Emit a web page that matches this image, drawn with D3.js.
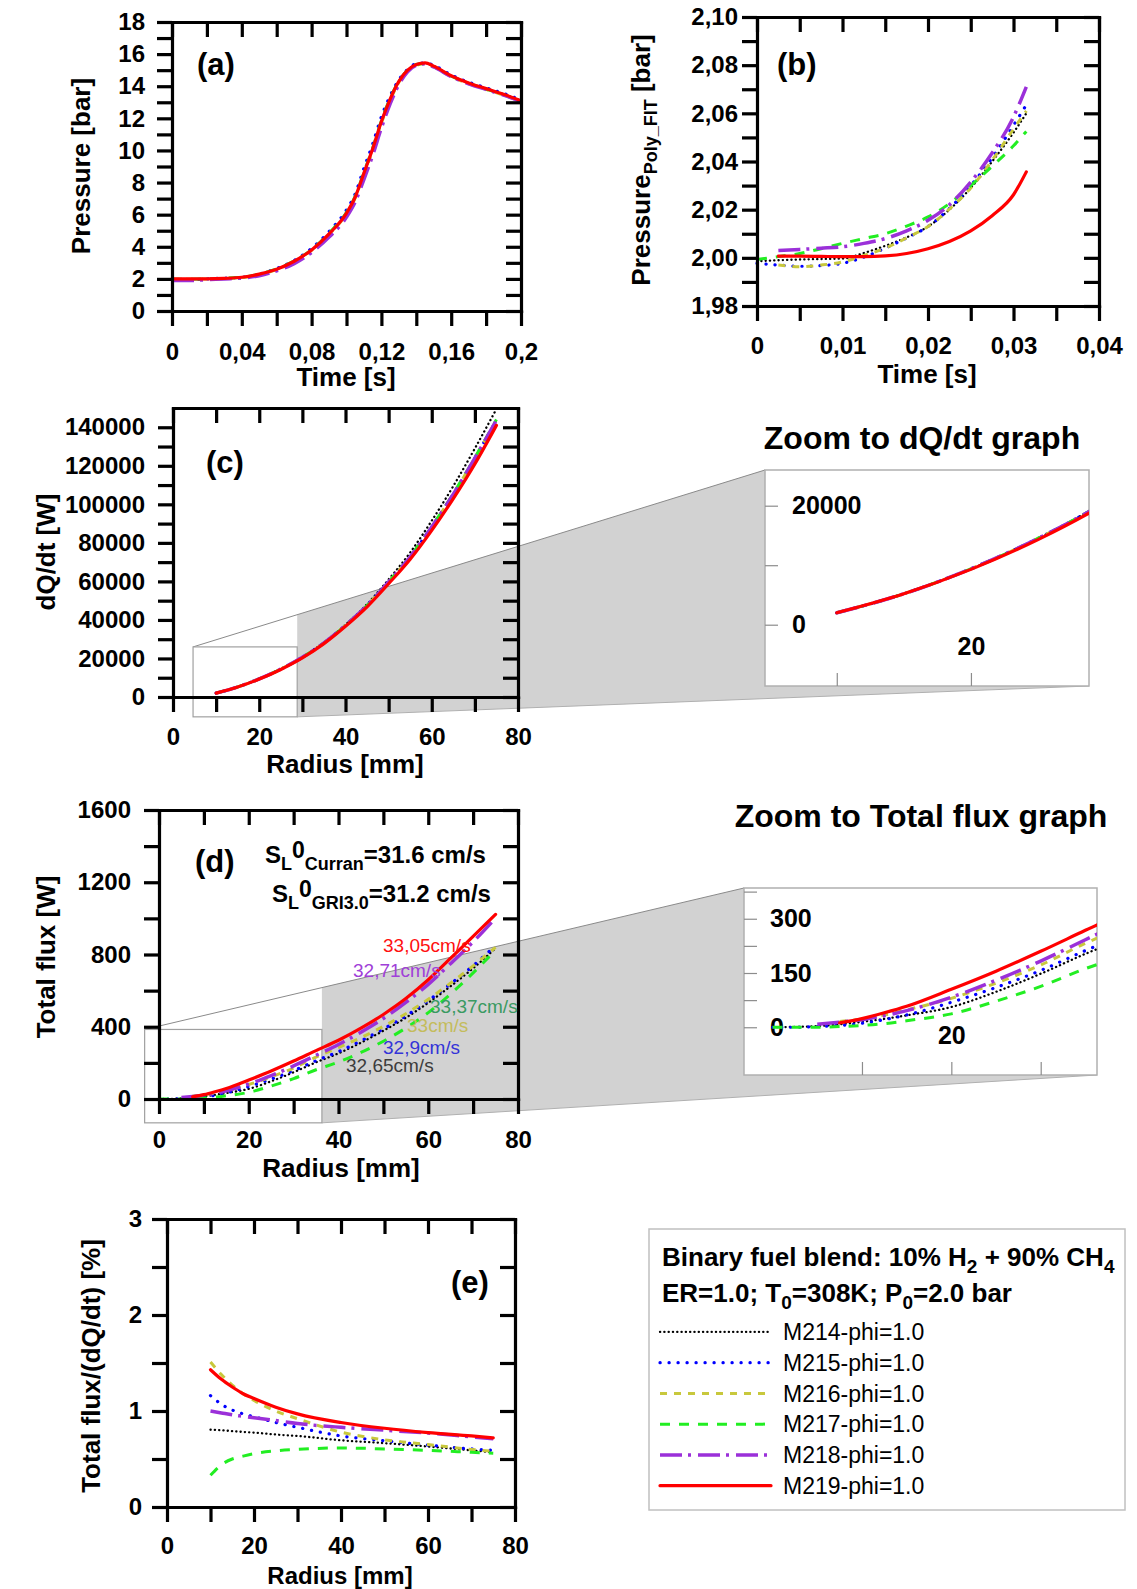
<!DOCTYPE html>
<html>
<head>
<meta charset="utf-8">
<script src="https://cdn.jsdelivr.net/npm/d3@7/dist/d3.min.js"></script>
<style>
  body { margin: 0; background: #fff; }
  text { font-family: "Liberation Sans", Arial, Helvetica, sans-serif; }
</style>
</head>
<body>
<svg id="fig" width="1137" height="1589"></svg>
<script>
"use strict";

// ---- series, same order in every panel ----
const seriesNames = ["M214-phi=1.0", "M215-phi=1.0", "M216-phi=1.0", "M217-phi=1.0", "M218-phi=1.0", "M219-phi=1.0"];

// (a) pressure vs time
const aTime = [0, 0.01, 0.02, 0.03, 0.04, 0.05, 0.06, 0.07, 0.08, 0.09, 0.1, 0.105, 0.11, 0.115, 0.12, 0.125, 0.13, 0.135, 0.14, 0.145, 0.15, 0.16, 0.17, 0.18, 0.19, 0.2];
const aM214 = [1.98, 1.98, 2.0, 2.03, 2.1, 2.28, 2.6, 3.1, 3.8, 4.8, 6.1, 7.1, 8.6, 10.1, 11.8, 13.2, 14.3, 15.0, 15.35, 15.45, 15.25, 14.65, 14.2, 13.85, 13.5, 13.1];
const aM215 = [1.95, 1.95, 2.0, 2.05, 2.1, 2.3, 2.65, 3.15, 3.9, 4.95, 6.3, 7.3, 8.9, 10.4, 12.1, 13.4, 14.4, 15.05, 15.4, 15.45, 15.3, 14.7, 14.25, 13.9, 13.55, 13.15];
const aM216 = [1.97, 1.97, 2.0, 2.03, 2.08, 2.27, 2.58, 3.08, 3.78, 4.78, 6.05, 7.05, 8.55, 10.0, 11.7, 13.1, 14.25, 14.95, 15.3, 15.4, 15.2, 14.6, 14.15, 13.8, 13.45, 13.05];
const aM217 = [1.98, 1.98, 2.0, 2.04, 2.1, 2.3, 2.62, 3.12, 3.82, 4.85, 6.15, 7.15, 8.65, 10.15, 11.85, 13.25, 14.3, 15.0, 15.35, 15.42, 15.22, 14.62, 14.18, 13.82, 13.47, 13.08];
const aM218 = [1.9, 1.9, 1.95, 2.0, 2.05, 2.2, 2.5, 2.95, 3.65, 4.6, 5.85, 6.8, 8.2, 9.7, 11.4, 12.9, 14.1, 14.9, 15.3, 15.4, 15.2, 14.6, 14.15, 13.8, 13.45, 13.05];
const aM219 = [2.0, 2.0, 2.0, 2.03, 2.1, 2.3, 2.6, 3.1, 3.8, 4.8, 6.1, 7.1, 8.6, 10.1, 11.8, 13.2, 14.3, 15.0, 15.35, 15.45, 15.25, 14.65, 14.2, 13.85, 13.5, 13.1];

// (b) polynomial fit of pressure, early stage
const bTime = [0, 0.0025, 0.005, 0.0075, 0.01, 0.0125, 0.015, 0.0175, 0.02, 0.0225, 0.025, 0.0275, 0.03, 0.0315];
const bM214 = [1.9986, 1.999, 1.9993, 1.9995, 1.9997, 2.002, 2.005, 2.0085, 2.013, 2.02, 2.029, 2.04, 2.052, 2.06];
const bM215 = [1.9977, 1.997, 1.9965, 1.9968, 1.9977, 2.0003, 2.004, 2.0083, 2.013, 2.0205, 2.03, 2.0415, 2.055, 2.0635];
const bM216 = [null, 1.997, 1.9963, 1.997, 1.9983, 2.001, 2.004, 2.0083, 2.013, 2.0202, 2.029, 2.0405, 2.0535, 2.061];
const bM217 = [1.9993, 2.0005, 2.0018, 2.0038, 2.006, 2.008, 2.01, 2.0132, 2.017, 2.0225, 2.03, 2.038, 2.0465, 2.0525];
const bM218 = [null, 2.003, 2.0035, 2.004, 2.0046, 2.006, 2.008, 2.0112, 2.0156, 2.022, 2.0315, 2.0435, 2.0585, 2.071];
const bM219 = [null, 2.0007, 2.0007, 2.0006, 2.0005, 2.0005, 2.0008, 2.0018, 2.0038, 2.0068, 2.0112, 2.0175, 2.0262, 2.0357];

// (c) dQ/dt vs radius
const cRadius = [10, 15, 20, 25, 30, 35, 40, 45, 50, 55, 60, 65, 70, 75];
const cM214 = [2000, 5200, 9400, 14500, 20700, 28300, 37500, 48200, 61000, 75000, 91500, 109500, 129000, 149500];
const cM215 = [2000, 5200, 9400, 14500, 20600, 28100, 37200, 47500, 59800, 72800, 88300, 105300, 124000, 143700];
const cM216 = [2000, 5200, 9400, 14500, 20600, 28100, 37200, 47500, 59800, 72800, 88300, 105300, 124000, 143700];
const cM217 = [2000, 5200, 9400, 14500, 20600, 28100, 37200, 47500, 59800, 72900, 88500, 105600, 124300, 144000];
const cM218 = [2000, 5200, 9400, 14500, 20600, 28100, 37200, 47500, 59800, 72800, 88300, 105300, 124000, 143700];
const cM219 = [2000, 5200, 9300, 14300, 20300, 27700, 36700, 46800, 58800, 71500, 86500, 103000, 121000, 141000];
const cZoomX = [4.65, 28.8];
const cZoomY = [-10300, 26000];

// (d) total flux vs radius
const dRadius = [0, 2.5, 5, 7.5, 10, 12.5, 15, 20, 25, 30, 35, 40, 45, 50, 55, 60, 65, 70, 75];
const dM214 = [0, 1, 3, 8, 15, 23, 33, 56, 98, 148, 203, 253, 312, 378, 450, 533, 625, 724, 835];
const dM215 = [0, 0, 2, 5, 11, 21, 34, 69, 110, 157, 212, 262, 322, 388, 460, 545, 638, 738, 850];
const dM216 = [null, null, null, 16, 23, 34, 48, 80, 122, 172, 232, 285, 340, 402, 472, 552, 642, 737, 840];
const dM217 = [0, 0, 0, 2, 5, 10, 18, 37, 72, 113, 162, 205, 258, 320, 393, 478, 582, 698, 825];
const dM218 = [null, null, 8, 14, 21, 32, 46, 83, 130, 183, 242, 302, 370, 446, 535, 635, 750, 870, 1002];
const dM219 = [null, null, null, 12, 24, 40, 58, 105, 155, 210, 268, 325, 392, 468, 556, 660, 780, 900, 1022];
const dZoomX = [-3.2, 36.3];
const dZoomY = [-132, 385];
const dSpeeds = ["32,65cm/s", "32,9cm/s", "33cm/s", "33,37cm/s", "32,71cm/s", "33,05cm/s"];

// (e) total flux / (dQ/dt) vs radius
const eRadius = [10, 12.5, 15, 17.5, 20, 25, 30, 40, 50, 60, 70, 75];
const eM214 = [0.805, 0.8, 0.79, 0.782, 0.775, 0.755, 0.74, 0.695, 0.665, 0.63, 0.59, 0.57];
const eM215 = [1.16, 1.07, 1.01, 0.97, 0.94, 0.88, 0.83, 0.74, 0.69, 0.645, 0.605, 0.59];
const eM216 = [1.51, 1.38, 1.27, 1.18, 1.11, 1.0, 0.92, 0.78, 0.7, 0.65, 0.6, 0.58];
const eM217 = [0.33, 0.44, 0.5, 0.53, 0.555, 0.585, 0.6, 0.615, 0.605, 0.59, 0.57, 0.56];
const eM218 = [1.0, 0.98, 0.96, 0.945, 0.93, 0.9, 0.87, 0.83, 0.8, 0.77, 0.73, 0.71];
const eM219 = [1.43, 1.33, 1.25, 1.18, 1.13, 1.04, 0.97, 0.88, 0.82, 0.775, 0.74, 0.72];

// line styles of the six series
const seriesStyle = [
  { color: "#000000", width: 2.3, dash: "0.2,4.1", cap: "round" },
  { color: "#0000ff", width: 3.2, dash: "0.2,8.8", cap: "round" },
  { color: "#c8c83c", width: 3, dash: "7,7", cap: "butt" },
  { color: "#22ee22", width: 3, dash: "10,9", cap: "butt" },
  { color: "#9b30d9", width: 3.5, dash: "22,6,3,7", cap: "butt" },
  { color: "#ff0000", width: 3.2, dash: null, cap: "round" }
];
const speedColors = ["#3c3c3c", "#3434d8", "#c4bc5c", "#3a9a62", "#a040d8", "#ff1010"];

const svg = d3.select("#fig");

function fmt(major, labels) {
  return d => {
    const i = major.findIndex(m => Math.abs(m - d) < 1e-7 * (1 + Math.abs(m)));
    return i < 0 ? "" : labels[i];
  };
}

function drawSeries(g, x, y, xs, list) {
  const line = d3.line()
    .defined(d => d[1] != null)
    .x(d => x(d[0]))
    .y(d => y(d[1]))
    .curve(d3.curveMonotoneX);
  list.forEach((vals, i) => {
    const st = seriesStyle[i];
    g.append("path")
      .datum(xs.map((t, j) => [t, vals[j]]))
      .attr("d", line)
      .attr("fill", "none")
      .attr("stroke", st.color)
      .attr("stroke-width", st.width)
      .attr("stroke-linecap", st.cap)
      .attr("stroke-dasharray", st.dash);
  });
}

// Origin-like frame: left/bottom ticks out, right/top ticks in
function frame(g, x, y, o) {
  const [xl, xr] = x.range(), [yb, yt] = y.range();
  const TL = 15;
  const left = g.append("g").attr("transform", `translate(${xl},0)`)
    .call(d3.axisLeft(y).tickValues(o.yTicks).tickFormat(fmt(o.yMajor, o.yLabels))
      .tickSize(TL).tickSizeOuter(0).tickPadding(o.yPad));
  const right = g.append("g").attr("transform", `translate(${xr},0)`)
    .call(d3.axisRight(y).tickValues(o.yTicks).tickFormat("").tickSize(-TL).tickSizeOuter(0));
  const top = g.append("g").attr("transform", `translate(0,${yt})`)
    .call(d3.axisTop(x).tickValues(o.xTicks).tickFormat("").tickSize(-TL).tickSizeOuter(0));
  const bottom = g.append("g").attr("transform", `translate(0,${yb})`)
    .call(d3.axisBottom(x).tickValues(o.xTicks).tickFormat(fmt(o.xMajor, o.xLabels))
      .tickSize(TL).tickSizeOuter(0).tickPadding(o.xPad));
  [left, right, top, bottom].forEach(a => {
    a.select(".domain").attr("stroke", "#000").attr("stroke-width", 3.2).attr("stroke-linecap", "square");
    a.selectAll(".tick line").attr("stroke", "#000").attr("stroke-width", 3.2);
    a.selectAll(".tick text").attr("fill", "#000").style("font-size", "24px").style("font-weight", "bold");
  });
}

function title(g, txt, cx, cy, rot, size) {
  return g.append("text")
    .attr("transform", `translate(${cx},${cy})` + (rot ? " rotate(-90)" : ""))
    .attr("text-anchor", "middle")
    .attr("dy", rot ? "0.35em" : 0)
    .style("font-size", (size || 26) + "px").style("font-weight", "bold")
    .text(txt);
}

function tag(g, txt, x, y) {
  g.append("text").attr("x", x).attr("y", y)
    .style("font-size", "31px").style("font-weight", "bold").text(txt);
}

// zoom window: marked rectangle in the panel, grey beam, inset box
function zoomBeam(g, xP, yP, zx, zy, box) {
  const rx0 = xP(zx[0]), rx1 = xP(zx[1]), ry0 = yP(zy[1]), ry1 = yP(zy[0]);
  const yAt = ry0 + (box.y0 - ry0) * (rx1 - rx0) / (box.x0 - rx0);
  g.append("path")
    .attr("d", `M${rx1},${yAt}L${box.x0},${box.y0}L${box.x1},${box.y1}L${rx1},${ry1}Z`)
    .attr("fill", "#d2d2d2");
  g.append("line").attr("x1", rx0).attr("y1", ry0).attr("x2", box.x0).attr("y2", box.y0)
    .attr("stroke", "#8a8a8a").attr("stroke-width", 1);
  g.append("line").attr("x1", rx1).attr("y1", ry1).attr("x2", box.x1).attr("y2", box.y1)
    .attr("stroke", "#b0b0b0").attr("stroke-width", 1);
  g.append("rect").attr("x", rx0).attr("y", ry0).attr("width", rx1 - rx0).attr("height", ry1 - ry0)
    .attr("fill", "#fff").attr("stroke", "#a0a0a0").attr("stroke-width", 1.2);
  g.append("rect").attr("x", box.x0).attr("y", box.y0).attr("width", box.x1 - box.x0).attr("height", box.y1 - box.y0)
    .attr("fill", "#fff").attr("stroke", "#b0b0b0").attr("stroke-width", 1.5);
}

function insetAxes(g, x, y, o, box) {
  const ly = g.append("g").attr("transform", `translate(${box.x0},0)`)
    .call(d3.axisRight(y).tickValues(o.yTicks).tickFormat(fmt(o.yMajor, o.yLabels)).tickSize(13).tickPadding(o.yPad));
  const lx = g.append("g").attr("transform", `translate(0,${box.y1})`)
    .call(d3.axisTop(x).tickValues(o.xTicks).tickFormat(fmt(o.xMajor, o.xLabels)).tickSize(13).tickPadding(o.xPad));
  [ly, lx].forEach(a => {
    a.select(".domain").remove();
    a.selectAll(".tick line").attr("stroke", "#8c8c8c").attr("stroke-width", 1.2);
    a.selectAll(".tick text").attr("fill", "#000").style("font-size", "25px").style("font-weight", "bold");
  });
}

// ================= (a) =================
const gA = svg.append("g");
const xA = d3.scaleLinear().domain([0, 0.2]).range([172, 521]);
const yA = d3.scaleLinear().domain([0, 18]).range([311, 22]);
drawSeries(gA, xA, yA, aTime, [aM214, aM215, aM216, aM217, aM218, aM219]);
frame(gA, xA, yA, {
  xTicks: d3.range(0, 0.2001, 0.02), xMajor: [0, 0.04, 0.08, 0.12, 0.16, 0.2],
  xLabels: ["0", "0,04", "0,08", "0,12", "0,16", "0,2"], xPad: 17,
  yTicks: d3.range(0, 18.5, 1), yMajor: [0, 2, 4, 6, 8, 10, 12, 14, 16, 18],
  yLabels: ["0", "2", "4", "6", "8", "10", "12", "14", "16", "18"], yPad: 12
});
title(gA, "Pressure [bar]", 81, 166, true);
title(gA, "Time [s]", 346, 386, false);
tag(gA, "(a)", 197, 75);

// ================= (b) =================
const gB = svg.append("g");
const xB = d3.scaleLinear().domain([0, 0.04]).range([757, 1099]);
const yB = d3.scaleLinear().domain([1.98, 2.10]).range([306, 17]);
drawSeries(gB, xB, yB, bTime, [bM214, bM215, bM216, bM217, bM218, bM219]);
frame(gB, xB, yB, {
  xTicks: d3.range(0, 0.04001, 0.005), xMajor: [0, 0.01, 0.02, 0.03, 0.04],
  xLabels: ["0", "0,01", "0,02", "0,03", "0,04"], xPad: 16,
  yTicks: d3.range(1.98, 2.1001, 0.01), yMajor: [1.98, 2.0, 2.02, 2.04, 2.06, 2.08, 2.1],
  yLabels: ["1,98", "2,00", "2,02", "2,04", "2,06", "2,08", "2,10"], yPad: 4
});
const tb = gB.append("text")
  .attr("transform", "translate(641,160) rotate(-90)")
  .attr("text-anchor", "middle").attr("dy", "0.35em")
  .style("font-size", "26px").style("font-weight", "bold");
tb.append("tspan").text("Pressure");
tb.append("tspan").attr("dy", 7).style("font-size", "18px").text("Poly_FIT");
tb.append("tspan").attr("dy", -7).text(" [bar]");
title(gB, "Time [s]", 927, 383, false);
tag(gB, "(b)", 777, 75);

// ================= (c) =================
const gC = svg.append("g");
const xC = d3.scaleLinear().domain([0, 80]).range([173, 518]);
const yC = d3.scaleLinear().domain([0, 150000]).range([697, 408]);
const boxC = { x0: 765, x1: 1089, y0: 470, y1: 686 };
zoomBeam(gC, xC, yC, cZoomX, cZoomY, boxC);
const cSeries = [cM214, cM215, cM216, cM217, cM218, cM219];
drawSeries(gC, xC, yC, cRadius, cSeries);
frame(gC, xC, yC, {
  xTicks: d3.range(0, 81, 10), xMajor: [0, 20, 40, 60, 80],
  xLabels: ["0", "20", "40", "60", "80"], xPad: 16,
  yTicks: d3.range(0, 140001, 10000), yMajor: [0, 20000, 40000, 60000, 80000, 100000, 120000, 140000],
  yLabels: ["0", "20000", "40000", "60000", "80000", "100000", "120000", "140000"], yPad: 13
});
title(gC, "dQ/dt [W]", 46, 552, true);
title(gC, "Radius [mm]", 345, 773, false);
tag(gC, "(c)", 206, 473);

svg.append("defs").append("clipPath").attr("id", "clipC")
  .append("rect").attr("x", boxC.x0).attr("y", boxC.y0)
  .attr("width", boxC.x1 - boxC.x0).attr("height", boxC.y1 - boxC.y0);
const xCi = d3.scaleLinear().domain(cZoomX).range([boxC.x0, boxC.x1]);
const yCi = d3.scaleLinear().domain(cZoomY).range([boxC.y1, boxC.y0]);
insetAxes(gC, xCi, yCi, {
  xTicks: [10, 20], xMajor: [20], xLabels: ["20"], xPad: 18,
  yTicks: [0, 10000, 20000], yMajor: [0, 20000], yLabels: ["0", "20000"], yPad: 14
}, boxC);
drawSeries(gC.append("g").attr("clip-path", "url(#clipC)"), xCi, yCi, cRadius, cSeries);
gC.append("text").attr("x", 922).attr("y", 449).attr("text-anchor", "middle")
  .style("font-size", "32px").style("font-weight", "bold").text("Zoom to dQ/dt graph");

// ================= (d) =================
const gD = svg.append("g");
const xD = d3.scaleLinear().domain([0, 80]).range([159, 518]);
const yD = d3.scaleLinear().domain([0, 1600]).range([1099, 810]);
const boxD = { x0: 744, x1: 1097, y0: 888, y1: 1075 };
zoomBeam(gD, xD, yD, dZoomX, dZoomY, boxD);
const dSeries = [dM214, dM215, dM216, dM217, dM218, dM219];
drawSeries(gD, xD, yD, dRadius, dSeries);
frame(gD, xD, yD, {
  xTicks: d3.range(0, 81, 10), xMajor: [0, 20, 40, 60, 80],
  xLabels: ["0", "20", "40", "60", "80"], xPad: 17,
  yTicks: d3.range(0, 1601, 200), yMajor: [0, 400, 800, 1200, 1600],
  yLabels: ["0", "400", "800", "1200", "1600"], yPad: 13
});
title(gD, "Total flux [W]", 46, 957, true);
title(gD, "Radius [mm]", 341, 1177, false);
tag(gD, "(d)", 195, 872);

function slText(g, x, y, sub, val) {
  const t = g.append("text").attr("x", x).attr("y", y)
    .style("font-size", "24px").style("font-weight", "bold");
  t.append("tspan").text("S");
  t.append("tspan").attr("dy", 7).style("font-size", "18px").text("L");
  t.append("tspan").attr("dy", -12.5).style("font-size", "23px").text("0");
  t.append("tspan").attr("dy", 12.5).style("font-size", "18px").text(sub);
  t.append("tspan").attr("dy", -7).text(val);
}
slText(gD, 265, 863, "Curran", "=31.6 cm/s");
slText(gD, 272, 902, "GRI3.0", "=31.2 cm/s");

const speedPos = [[346, 1072], [383, 1054], [407, 1032], [430, 1013], [353, 977], [383, 952]];
dSpeeds.forEach((s, i) => {
  gD.append("text").attr("x", speedPos[i][0]).attr("y", speedPos[i][1])
    .attr("fill", speedColors[i]).style("font-size", "19px").text(s);
});

svg.append("defs").append("clipPath").attr("id", "clipD")
  .append("rect").attr("x", boxD.x0).attr("y", boxD.y0)
  .attr("width", boxD.x1 - boxD.x0).attr("height", boxD.y1 - boxD.y0);
const xDi = d3.scaleLinear().domain(dZoomX).range([boxD.x0, boxD.x1]);
const yDi = d3.scaleLinear().domain(dZoomY).range([boxD.y1, boxD.y0]);
insetAxes(gD, xDi, yDi, {
  xTicks: [10, 20, 30], xMajor: [20], xLabels: ["20"], xPad: 18,
  yTicks: [0, 75, 150, 225, 300, 375], yMajor: [0, 150, 300], yLabels: ["0", "150", "300"], yPad: 13
}, boxD);
drawSeries(gD.append("g").attr("clip-path", "url(#clipD)"), xDi, yDi, dRadius, dSeries);
gD.append("text").attr("x", 921).attr("y", 827).attr("text-anchor", "middle")
  .style("font-size", "32px").style("font-weight", "bold").text("Zoom to Total flux graph");

// ================= (e) =================
const gE = svg.append("g");
const xE = d3.scaleLinear().domain([0, 80]).range([167, 515]);
const yE = d3.scaleLinear().domain([0, 3]).range([1507, 1219]);
drawSeries(gE, xE, yE, eRadius, [eM214, eM215, eM216, eM217, eM218, eM219]);
frame(gE, xE, yE, {
  xTicks: d3.range(0, 81, 10), xMajor: [0, 20, 40, 60, 80],
  xLabels: ["0", "20", "40", "60", "80"], xPad: 15,
  yTicks: d3.range(0, 3.01, 0.5), yMajor: [0, 1, 2, 3],
  yLabels: ["0", "1", "2", "3"], yPad: 10
});
title(gE, "Total flux/(dQ/dt) [%]", 91, 1366, true);
title(gE, "Radius [mm]", 340, 1584, false, 24);
tag(gE, "(e)", 451, 1293);

// ================= legend =================
const gL = svg.append("g");
gL.append("rect").attr("x", 649).attr("y", 1229).attr("width", 476).attr("height", 281)
  .attr("fill", "#fff").attr("stroke", "#c0c0c0").attr("stroke-width", 1.5);
const l1 = gL.append("text").attr("x", 662).attr("y", 1266)
  .style("font-size", "26px").style("font-weight", "bold");
l1.append("tspan").text("Binary fuel blend: 10% H");
l1.append("tspan").attr("dy", 7).style("font-size", "19px").text("2");
l1.append("tspan").attr("dy", -7).text(" + 90% CH");
l1.append("tspan").attr("dy", 7).style("font-size", "19px").text("4");
const l2 = gL.append("text").attr("x", 662).attr("y", 1302)
  .style("font-size", "26px").style("font-weight", "bold");
l2.append("tspan").text("ER=1.0; T");
l2.append("tspan").attr("dy", 7).style("font-size", "19px").text("0");
l2.append("tspan").attr("dy", -7).text("=308K; P");
l2.append("tspan").attr("dy", 7).style("font-size", "19px").text("0");
l2.append("tspan").attr("dy", -7).text("=2.0 bar");

const legY = d3.scaleBand().domain(seriesNames).range([1316.5, 1501]);
seriesNames.forEach((n, i) => {
  const st = seriesStyle[i];
  const yy = legY(n) + legY.bandwidth() / 2;
  gL.append("line").attr("x1", 660).attr("x2", 771).attr("y1", yy).attr("y2", yy)
    .attr("stroke", st.color).attr("stroke-width", st.width)
    .attr("stroke-linecap", st.cap).attr("stroke-dasharray", st.dash);
  gL.append("text").attr("x", 783).attr("y", yy).attr("dy", "0.36em")
    .style("font-size", "23px").text(n);
});
</script>
</body>
</html>
